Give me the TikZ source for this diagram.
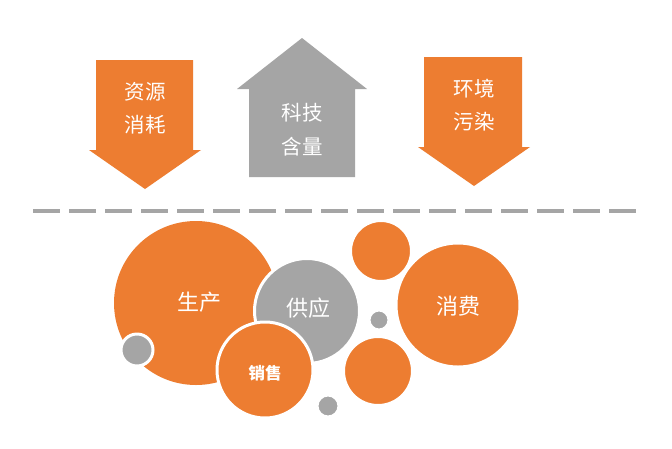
\documentclass[tikz,border=0pt]{standalone}
\usepackage{fontspec}
\newfontfamily\cjk{Noto Sans CJK SC}
\definecolor{orng}{HTML}{ED7D31}
\definecolor{gry}{HTML}{A5A5A5}
\begin{document}
\begin{tikzpicture}[x=1pt,y=-1pt,
  lbl/.style={text=white,font=\cjk\fontsize{20.5}{24}\selectfont,inner sep=0pt},
  blbl/.style={lbl,font=\cjk\fontsize{22}{26}\selectfont},
  bub/.style={circle,inner sep=0pt,draw=white,line width=3pt,minimum size=#1},
  ob/.style={bub=#1,fill=orng},
  gb/.style={bub=#1,fill=gry}]
\useasboundingbox[fill=white] (0,0) rectangle (672,448);
% arrows
\fill[orng] (96,60) -- (193,60) -- (193,150) -- (201,150) -- (145,189) -- (89,150) -- (96,150) -- cycle;
\fill[gry] (249,177) -- (355,177) -- (355,89) -- (367,89) -- (302,38) -- (237,89) -- (249,89) -- cycle;
\fill[orng] (424,57) -- (522,57) -- (522,147) -- (530,147) -- (474,186) -- (418,147) -- (424,147) -- cycle;
\node[lbl] (t1a) at (145,92) {资源};
\node[lbl] (t1b) at (145,125) {消耗};
\node[lbl] (t2a) at (302,113) {科技};
\node[lbl] (t2b) at (302,147) {含量};
\node[lbl] (t3a) at (474,89) {环境};
\node[lbl] (t3b) at (474,122) {污染};
% dashed divider
\coordinate (dl) at (33,211);
\coordinate (dr) at (637,211);
\draw[gry,line width=4pt,dash pattern=on 27pt off 9pt] (dl) -- (dr);
% bubbles
\node[circle,inner sep=0pt,fill=orng,minimum size=164pt] (prod) at (196,303) {};
\node[blbl] (prodt) at (199,302) {生产};
\node[gb=105pt] (supp) at (307,311) {};
\node[blbl] (suppt) at (308,308) {供应};
\node[ob=96pt] (sale) at (265,370) {};
\node[lbl,font=\cjk\bfseries\fontsize{16.5}{20}\selectfont] (salet) at (265,373) {销售};
\node[gb=32pt] (g1) at (137,350) {};
\node[gb=22pt] (g2) at (328,406) {};
\node[gb=20pt] (g3) at (379,320) {};
\node[ob=61pt] (o1) at (381,251) {};
\node[ob=69pt] (o2) at (378,371) {};
\node[ob=124pt] (cons) at (458,305) {};
\node[blbl] (const) at (458,306) {消费};
\end{tikzpicture}
\end{document}
